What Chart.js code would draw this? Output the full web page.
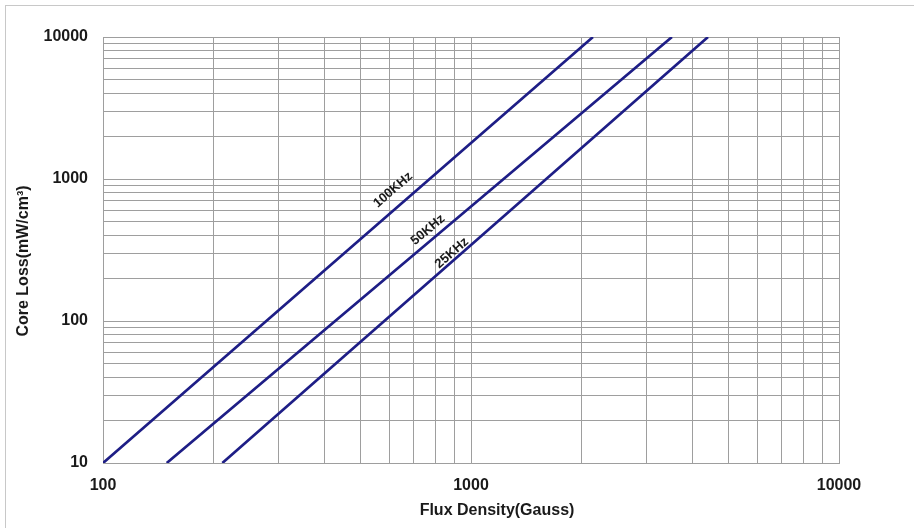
<!DOCTYPE html>
<html>
<head>
<meta charset="utf-8">
<script src="https://cdn.jsdelivr.net/npm/chart.js@4"></script>
<style>
  html, body { margin: 0; padding: 0; background: #ffffff; }
  #wrap { position: relative; width: 914px; height: 528px; overflow: hidden; }
  #frame { position: absolute; left: 5px; top: 5px; width: 1000px; height: 1000px;
           border-left: 1px solid #c8c8c8; border-top: 1px solid #c8c8c8; pointer-events: none; }
  canvas { position: absolute; left: 0; top: 0; }
</style>
</head>
<body>
<div id="wrap">
  <canvas id="c" width="914" height="528"></canvas>
  <div id="frame"></div>
</div>
<script>
// ---- data ----
const seriesNames = ['100KHz', '50KHz', '25KHz'];
const flux100k = [100, 1000, 2145];
const loss100k = [10, 1794, 10000];
const flux50k = [149, 1000, 3516];
const loss50k = [10, 640, 10000];
const flux25k = [211, 1000, 4406];
const loss25k = [10, 343, 10000];

// label anchor points (data space)
const labelFlux = [614, 764, 887];
const labelLoss = [837, 438, 301];

// ticks
const xTickValues = [100,200,300,400,500,600,700,800,900,1000,2000,3000,4000,5000,6000,7000,8000,9000,10000];
const xTickLabels = ['100', '1000', '10000'];
const yTickValues = [10,20,30,40,50,60,70,80,90,100,200,300,400,500,600,700,800,900,1000,2000,3000,4000,5000,6000,7000,8000,9000,10000];
const yTickLabels = ['10', '100', '1000', '10000'];

const xTitle = 'Flux Density(Gauss)';
const yTitle = 'Core Loss(mW/cm³)';

// ---- build ----
const lineColor = '#1e1e86';
const gridColor = '#9e9e9e';
const FONT = '"Liberation Sans", Arial, Helvetica, sans-serif';

function pts(xs, ys) { return xs.map((x, i) => ({ x: x, y: ys[i] })); }
const allFlux = [flux100k, flux50k, flux25k];
const allLoss = [loss100k, loss50k, loss25k];

const datasets = seriesNames.map((name, i) => ({
  label: name,
  data: pts(allFlux[i], allLoss[i]),
  borderColor: lineColor,
  borderWidth: 2.7,
  pointRadius: 0,
  showLine: true,
  fill: false,
  tension: 0
}));

const lineLabels = {
  id: 'lineLabels',
  afterDatasetsDraw(chart) {
    const { ctx, scales: { x, y } } = chart;
    ctx.save();
    ctx.font = 'bold 13px ' + FONT;
    ctx.fillStyle = '#1a1a1a';
    ctx.textAlign = 'center';
    ctx.textBaseline = 'middle';
    chart.data.datasets.forEach((ds, i) => {
      const d = ds.data;
      const p0x = x.getPixelForValue(d[0].x), p0y = y.getPixelForValue(d[0].y);
      const p1x = x.getPixelForValue(d[d.length - 1].x), p1y = y.getPixelForValue(d[d.length - 1].y);
      const ang = Math.atan2(p1y - p0y, p1x - p0x);
      const px = x.getPixelForValue(labelFlux[i]);
      const py = y.getPixelForValue(labelLoss[i]);
      ctx.save();
      ctx.translate(px, py);
      ctx.rotate(ang);
      ctx.fillText(ds.label, 0, 0);
      ctx.restore();
    });
    ctx.restore();
  }
};

const axisTitles = {
  id: 'axisTitles',
  afterDraw(chart) {
    const { ctx, chartArea: a } = chart;
    ctx.save();
    ctx.font = 'bold 16px ' + FONT;
    ctx.fillStyle = '#1a1a1a';
    ctx.textAlign = 'center';
    ctx.textBaseline = 'middle';
    ctx.fillText(xTitle, (a.left + a.right) / 2 + 26, 511);
    ctx.translate(24, (a.top + a.bottom) / 2 + 11);
    ctx.rotate(-Math.PI / 2);
    ctx.fillText(yTitle, 0, 0);
    ctx.restore();
  }
};

new Chart(document.getElementById('c'), {
  type: 'scatter',
  data: { datasets: datasets },
  options: {
    responsive: false,
    animation: false,
    devicePixelRatio: 1,
    layout: { padding: { left: 0, top: 37, right: 75, bottom: 0 } },
    plugins: { legend: { display: false }, tooltip: { enabled: false }, title: { display: false } },
    scales: {
      x: {
        type: 'logarithmic',
        min: 100, max: 10000,
        afterBuildTicks(s) { s.ticks = xTickValues.map(v => ({ value: v })); },
        afterFit(s) { s.height = 65; },
        grid: { color: gridColor, lineWidth: 1, drawTicks: false },
        border: { display: true, color: gridColor, width: 1 },
        ticks: {
          autoSkip: false, maxRotation: 0, padding: 13,
          color: '#1a1a1a',
          font: { family: FONT, size: 16, weight: 'bold' },
          callback(v) { const s = String(v); return xTickLabels.includes(s) ? s : ''; }
        }
      },
      y: {
        type: 'logarithmic',
        min: 10, max: 10000,
        afterBuildTicks(s) { s.ticks = yTickValues.map(v => ({ value: v })); },
        afterFit(s) { s.width = 103; },
        grid: { color: gridColor, lineWidth: 1, drawTicks: false },
        border: { display: true, color: gridColor, width: 1 },
        ticks: {
          autoSkip: false, padding: 15,
          color: '#1a1a1a',
          font: { family: FONT, size: 16, weight: 'bold' },
          callback(v) { const s = String(v); return yTickLabels.includes(s) ? s : ''; }
        }
      }
    }
  },
  plugins: [lineLabels, axisTitles]
});
</script>
</body>
</html>
